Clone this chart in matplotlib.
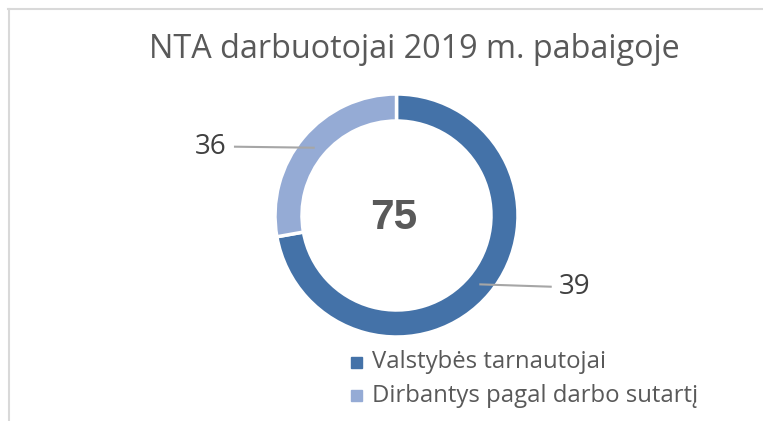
import numpy as np
import matplotlib.pyplot as plt
from matplotlib.patches import Rectangle
from matplotlib.lines import Line2D

title = "NTA darbuotojai 2019 m. pabaigoje"
categories = ["Valstybės tarnautojai", "Dirbantys pagal darbo sutartį"]
values = [39, 36]
# ring shares as drawn in the source picture (they do not follow 39:36)
shares = [72.2, 27.8]
colors = ["#4472A8", "#95ABD5"]

W, H = 763, 421
plt.rcParams['font.family'] = ['Open Sans', 'DejaVu Sans']
fig = plt.figure(figsize=(W / 100, H / 100), dpi=100)
ax = fig.add_axes([0, 0, 1, 1])

cx, cy, R = 396.5, H - 215.5, 121.5
wedges, _ = ax.pie(shares, colors=colors, startangle=90, counterclock=False,
                   center=(cx, cy), radius=R, frame=True,
                   wedgeprops=dict(width=27, edgecolor='white', linewidth=2.5))
ax.set_xlim(0, W)
ax.set_ylim(0, H)
ax.axis('off')

# border of chart area (cropped)
ax.add_line(Line2D([8, W], [H - 8.5, H - 8.5], color='#D9D9D9', lw=1.5))
ax.add_line(Line2D([8.5, 8.5], [0, H - 8.5], color='#D9D9D9', lw=1.5))

ax.text(414.5, H - 58.3, title, ha='center', va='baseline', fontsize=23.3, color='#595959')
ax.text(393.5, H - 218, str(sum(values)), ha='center', va='center', fontsize=30.5,
        fontweight='bold', color='#595959', family='Liberation Sans')

# data labels with leader lines
label_cfg = [(-39.4, 108.5, (550.7, H - 286.7), (575, H - 287)),
             (140.7, 107, (235, H - 146.7), (210.5, H - 147.5))]
for v, (ang, r, lend, tpos) in zip(values, label_cfg):
    a = np.deg2rad(ang)
    px, py = cx + r * np.cos(a), cy + r * np.sin(a)
    ax.add_line(Line2D([px, lend[0]], [py, lend[1]], color='#A6A6A6', lw=1.5))
    ax.text(tpos[0], tpos[1], str(v), ha='center', va='center', fontsize=20, color='#404040')

# legend
for i, (lab, c) in enumerate(zip(categories, colors)):
    ax.add_patch(Rectangle((350.7, H - (368.3 + 32.5 * i)), 11, 11, color=c))
    ax.text(371.7, H - (368.3 + 33.4 * i), lab, ha='left', va='baseline',
            fontsize=17.2, color='#595959')

fig.savefig('out.png', dpi=100)
